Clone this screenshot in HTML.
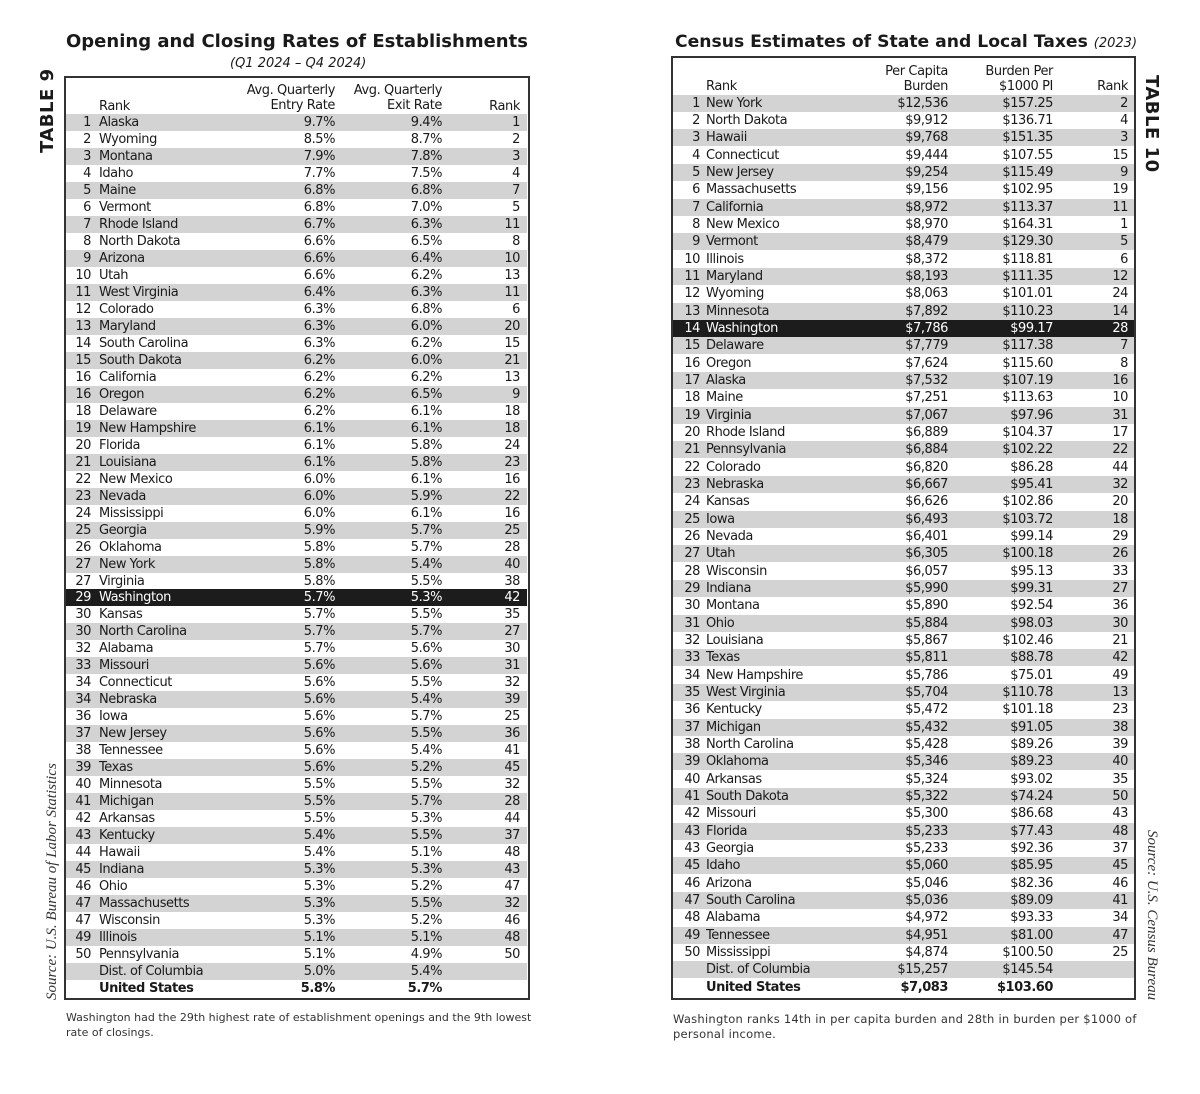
<!DOCTYPE html>
<html><head><meta charset="utf-8"><style>
body{margin:0;width:1200px;height:1094px;background:#fff;position:relative;font-family:"DejaVu Sans","Liberation Sans",sans-serif;color:#1a1a1a;overflow:hidden}
.abs{position:absolute}
.title{font-weight:bold;white-space:nowrap}
.box{position:absolute;border:2px solid #333;box-sizing:border-box}
.r{position:absolute;height:17px;font-size:13px;line-height:17px;white-space:nowrap;letter-spacing:-0.45px}
.r span{position:absolute;top:0}
.g{background:#d3d3d3}
.b{background:#1c1c1c;color:#fff}
.L .n{left:0;width:25px;text-align:right}
.L .s{left:33px}
.L .a{left:0;width:269px;text-align:right}
.L .c{left:0;width:376px;text-align:right}
.L .k{left:0;width:454px;text-align:right}
.R .n{left:0;width:27px;text-align:right}
.R .s{left:33px}
.R .a{left:0;width:275px;text-align:right}
.R .c{left:0;width:380px;text-align:right}
.R .k{left:0;width:455px;text-align:right}
.L{left:66px;width:461px}
.R{left:673px;width:461px}
.h{position:absolute;font-size:13px;line-height:15px;text-align:right;white-space:nowrap;letter-spacing:-0.4px}
.fn{position:absolute;font-size:11px;line-height:15px;color:#333;white-space:nowrap}
.rot{position:absolute;white-space:nowrap;transform-origin:0 0}
</style></head><body>
<div class="abs title" style="left:66px;top:31px;font-size:18px">Opening and Closing Rates of Establishments</div>
<div class="abs" style="left:230px;top:56px;font-size:13px;font-style:italic">(Q1 2024 – Q4 2024)</div>
<div class="abs title" style="left:675px;top:32px;font-size:17.2px">Census Estimates of State and Local Taxes <span style="font-weight:normal;font-style:italic;font-size:13px">(2023)</span></div>

<div class="rot" style="left:37px;top:153px;transform:rotate(-90deg);font-weight:bold;font-size:18px;letter-spacing:0.5px">TABLE 9</div>
<div class="rot" style="left:1162px;top:75px;transform:rotate(90deg);font-weight:bold;font-size:18px;letter-spacing:0.5px">TABLE 10</div>
<div class="rot" style="left:44px;top:1000px;transform:rotate(-90deg);font-family:'Liberation Serif',serif;font-style:italic;font-size:15px;color:#333">Source: U.S. Bureau of Labor Statistics</div>
<div class="rot" style="left:1160px;top:830px;transform:rotate(90deg);font-family:'Liberation Serif',serif;font-style:italic;font-size:15px;color:#333">Source: U.S. Census Bureau</div>

<div class="box" style="left:64px;top:76px;width:466px;height:924px"></div>
<div class="box" style="left:671px;top:56px;width:465px;height:944px"></div>

<div class="h" style="left:99px;top:99px;text-align:left">Rank</div>
<div class="h" style="left:200px;top:83px;width:135px">Avg. Quarterly<br>Entry Rate</div>
<div class="h" style="left:300px;top:83px;width:142px">Avg. Quarterly<br>Exit Rate</div>
<div class="h" style="left:470px;top:99px;width:50px">Rank</div>

<div class="h" style="left:706px;top:79px;text-align:left">Rank</div>
<div class="h" style="left:820px;top:64px;width:128px">Per Capita<br>Burden</div>
<div class="h" style="left:920px;top:64px;width:133px">Burden Per<br>$1000 PI</div>
<div class="h" style="left:1070px;top:79px;width:58px">Rank</div>

<div class="r L g" style="top:114.3px"><span class="n">1</span><span class="s">Alaska</span><span class="a">9.7%</span><span class="c">9.4%</span><span class="k">1</span></div>
<div class="r L" style="top:131.3px"><span class="n">2</span><span class="s">Wyoming</span><span class="a">8.5%</span><span class="c">8.7%</span><span class="k">2</span></div>
<div class="r L g" style="top:148.2px"><span class="n">3</span><span class="s">Montana</span><span class="a">7.9%</span><span class="c">7.8%</span><span class="k">3</span></div>
<div class="r L" style="top:165.2px"><span class="n">4</span><span class="s">Idaho</span><span class="a">7.7%</span><span class="c">7.5%</span><span class="k">4</span></div>
<div class="r L g" style="top:182.2px"><span class="n">5</span><span class="s">Maine</span><span class="a">6.8%</span><span class="c">6.8%</span><span class="k">7</span></div>
<div class="r L" style="top:199.1px"><span class="n">6</span><span class="s">Vermont</span><span class="a">6.8%</span><span class="c">7.0%</span><span class="k">5</span></div>
<div class="r L g" style="top:216.1px"><span class="n">7</span><span class="s">Rhode Island</span><span class="a">6.7%</span><span class="c">6.3%</span><span class="k">11</span></div>
<div class="r L" style="top:233.1px"><span class="n">8</span><span class="s">North Dakota</span><span class="a">6.6%</span><span class="c">6.5%</span><span class="k">8</span></div>
<div class="r L g" style="top:250.1px"><span class="n">9</span><span class="s">Arizona</span><span class="a">6.6%</span><span class="c">6.4%</span><span class="k">10</span></div>
<div class="r L" style="top:267.0px"><span class="n">10</span><span class="s">Utah</span><span class="a">6.6%</span><span class="c">6.2%</span><span class="k">13</span></div>
<div class="r L g" style="top:284.0px"><span class="n">11</span><span class="s">West Virginia</span><span class="a">6.4%</span><span class="c">6.3%</span><span class="k">11</span></div>
<div class="r L" style="top:301.0px"><span class="n">12</span><span class="s">Colorado</span><span class="a">6.3%</span><span class="c">6.8%</span><span class="k">6</span></div>
<div class="r L g" style="top:317.9px"><span class="n">13</span><span class="s">Maryland</span><span class="a">6.3%</span><span class="c">6.0%</span><span class="k">20</span></div>
<div class="r L" style="top:334.9px"><span class="n">14</span><span class="s">South Carolina</span><span class="a">6.3%</span><span class="c">6.2%</span><span class="k">15</span></div>
<div class="r L g" style="top:351.9px"><span class="n">15</span><span class="s">South Dakota</span><span class="a">6.2%</span><span class="c">6.0%</span><span class="k">21</span></div>
<div class="r L" style="top:368.8px"><span class="n">16</span><span class="s">California</span><span class="a">6.2%</span><span class="c">6.2%</span><span class="k">13</span></div>
<div class="r L g" style="top:385.8px"><span class="n">16</span><span class="s">Oregon</span><span class="a">6.2%</span><span class="c">6.5%</span><span class="k">9</span></div>
<div class="r L" style="top:402.8px"><span class="n">18</span><span class="s">Delaware</span><span class="a">6.2%</span><span class="c">6.1%</span><span class="k">18</span></div>
<div class="r L g" style="top:419.7px"><span class="n">19</span><span class="s">New Hampshire</span><span class="a">6.1%</span><span class="c">6.1%</span><span class="k">18</span></div>
<div class="r L" style="top:436.7px"><span class="n">20</span><span class="s">Florida</span><span class="a">6.1%</span><span class="c">5.8%</span><span class="k">24</span></div>
<div class="r L g" style="top:453.7px"><span class="n">21</span><span class="s">Louisiana</span><span class="a">6.1%</span><span class="c">5.8%</span><span class="k">23</span></div>
<div class="r L" style="top:470.6px"><span class="n">22</span><span class="s">New Mexico</span><span class="a">6.0%</span><span class="c">6.1%</span><span class="k">16</span></div>
<div class="r L g" style="top:487.6px"><span class="n">23</span><span class="s">Nevada</span><span class="a">6.0%</span><span class="c">5.9%</span><span class="k">22</span></div>
<div class="r L" style="top:504.6px"><span class="n">24</span><span class="s">Mississippi</span><span class="a">6.0%</span><span class="c">6.1%</span><span class="k">16</span></div>
<div class="r L g" style="top:521.6px"><span class="n">25</span><span class="s">Georgia</span><span class="a">5.9%</span><span class="c">5.7%</span><span class="k">25</span></div>
<div class="r L" style="top:538.5px"><span class="n">26</span><span class="s">Oklahoma</span><span class="a">5.8%</span><span class="c">5.7%</span><span class="k">28</span></div>
<div class="r L g" style="top:555.5px"><span class="n">27</span><span class="s">New York</span><span class="a">5.8%</span><span class="c">5.4%</span><span class="k">40</span></div>
<div class="r L" style="top:572.5px"><span class="n">27</span><span class="s">Virginia</span><span class="a">5.8%</span><span class="c">5.5%</span><span class="k">38</span></div>
<div class="r L b" style="top:589.4px"><span class="n">29</span><span class="s">Washington</span><span class="a">5.7%</span><span class="c">5.3%</span><span class="k">42</span></div>
<div class="r L" style="top:606.4px"><span class="n">30</span><span class="s">Kansas</span><span class="a">5.7%</span><span class="c">5.5%</span><span class="k">35</span></div>
<div class="r L g" style="top:623.4px"><span class="n">30</span><span class="s">North Carolina</span><span class="a">5.7%</span><span class="c">5.7%</span><span class="k">27</span></div>
<div class="r L" style="top:640.3px"><span class="n">32</span><span class="s">Alabama</span><span class="a">5.7%</span><span class="c">5.6%</span><span class="k">30</span></div>
<div class="r L g" style="top:657.3px"><span class="n">33</span><span class="s">Missouri</span><span class="a">5.6%</span><span class="c">5.6%</span><span class="k">31</span></div>
<div class="r L" style="top:674.3px"><span class="n">34</span><span class="s">Connecticut</span><span class="a">5.6%</span><span class="c">5.5%</span><span class="k">32</span></div>
<div class="r L g" style="top:691.2px"><span class="n">34</span><span class="s">Nebraska</span><span class="a">5.6%</span><span class="c">5.4%</span><span class="k">39</span></div>
<div class="r L" style="top:708.2px"><span class="n">36</span><span class="s">Iowa</span><span class="a">5.6%</span><span class="c">5.7%</span><span class="k">25</span></div>
<div class="r L g" style="top:725.2px"><span class="n">37</span><span class="s">New Jersey</span><span class="a">5.6%</span><span class="c">5.5%</span><span class="k">36</span></div>
<div class="r L" style="top:742.2px"><span class="n">38</span><span class="s">Tennessee</span><span class="a">5.6%</span><span class="c">5.4%</span><span class="k">41</span></div>
<div class="r L g" style="top:759.1px"><span class="n">39</span><span class="s">Texas</span><span class="a">5.6%</span><span class="c">5.2%</span><span class="k">45</span></div>
<div class="r L" style="top:776.1px"><span class="n">40</span><span class="s">Minnesota</span><span class="a">5.5%</span><span class="c">5.5%</span><span class="k">32</span></div>
<div class="r L g" style="top:793.1px"><span class="n">41</span><span class="s">Michigan</span><span class="a">5.5%</span><span class="c">5.7%</span><span class="k">28</span></div>
<div class="r L" style="top:810.0px"><span class="n">42</span><span class="s">Arkansas</span><span class="a">5.5%</span><span class="c">5.3%</span><span class="k">44</span></div>
<div class="r L g" style="top:827.0px"><span class="n">43</span><span class="s">Kentucky</span><span class="a">5.4%</span><span class="c">5.5%</span><span class="k">37</span></div>
<div class="r L" style="top:844.0px"><span class="n">44</span><span class="s">Hawaii</span><span class="a">5.4%</span><span class="c">5.1%</span><span class="k">48</span></div>
<div class="r L g" style="top:860.9px"><span class="n">45</span><span class="s">Indiana</span><span class="a">5.3%</span><span class="c">5.3%</span><span class="k">43</span></div>
<div class="r L" style="top:877.9px"><span class="n">46</span><span class="s">Ohio</span><span class="a">5.3%</span><span class="c">5.2%</span><span class="k">47</span></div>
<div class="r L g" style="top:894.9px"><span class="n">47</span><span class="s">Massachusetts</span><span class="a">5.3%</span><span class="c">5.5%</span><span class="k">32</span></div>
<div class="r L" style="top:911.8px"><span class="n">47</span><span class="s">Wisconsin</span><span class="a">5.3%</span><span class="c">5.2%</span><span class="k">46</span></div>
<div class="r L g" style="top:928.8px"><span class="n">49</span><span class="s">Illinois</span><span class="a">5.1%</span><span class="c">5.1%</span><span class="k">48</span></div>
<div class="r L" style="top:945.8px"><span class="n">50</span><span class="s">Pennsylvania</span><span class="a">5.1%</span><span class="c">4.9%</span><span class="k">50</span></div>
<div class="r L g" style="top:962.7px"><span class="s">Dist. of Columbia</span><span class="a">5.0%</span><span class="c">5.4%</span></div>
<div class="r L" style="top:979.7px;font-weight:bold"><span class="s">United States</span><span class="a">5.8%</span><span class="c">5.7%</span></div>

<div class="r R g" style="top:94.7px"><span class="n">1</span><span class="s">New York</span><span class="a">$12,536</span><span class="c">$157.25</span><span class="k">2</span></div>
<div class="r R" style="top:112.0px"><span class="n">2</span><span class="s">North Dakota</span><span class="a">$9,912</span><span class="c">$136.71</span><span class="k">4</span></div>
<div class="r R g" style="top:129.4px"><span class="n">3</span><span class="s">Hawaii</span><span class="a">$9,768</span><span class="c">$151.35</span><span class="k">3</span></div>
<div class="r R" style="top:146.7px"><span class="n">4</span><span class="s">Connecticut</span><span class="a">$9,444</span><span class="c">$107.55</span><span class="k">15</span></div>
<div class="r R g" style="top:164.0px"><span class="n">5</span><span class="s">New Jersey</span><span class="a">$9,254</span><span class="c">$115.49</span><span class="k">9</span></div>
<div class="r R" style="top:181.4px"><span class="n">6</span><span class="s">Massachusetts</span><span class="a">$9,156</span><span class="c">$102.95</span><span class="k">19</span></div>
<div class="r R g" style="top:198.7px"><span class="n">7</span><span class="s">California</span><span class="a">$8,972</span><span class="c">$113.37</span><span class="k">11</span></div>
<div class="r R" style="top:216.0px"><span class="n">8</span><span class="s">New Mexico</span><span class="a">$8,970</span><span class="c">$164.31</span><span class="k">1</span></div>
<div class="r R g" style="top:233.4px"><span class="n">9</span><span class="s">Vermont</span><span class="a">$8,479</span><span class="c">$129.30</span><span class="k">5</span></div>
<div class="r R" style="top:250.7px"><span class="n">10</span><span class="s">Illinois</span><span class="a">$8,372</span><span class="c">$118.81</span><span class="k">6</span></div>
<div class="r R g" style="top:268.0px"><span class="n">11</span><span class="s">Maryland</span><span class="a">$8,193</span><span class="c">$111.35</span><span class="k">12</span></div>
<div class="r R" style="top:285.4px"><span class="n">12</span><span class="s">Wyoming</span><span class="a">$8,063</span><span class="c">$101.01</span><span class="k">24</span></div>
<div class="r R g" style="top:302.7px"><span class="n">13</span><span class="s">Minnesota</span><span class="a">$7,892</span><span class="c">$110.23</span><span class="k">14</span></div>
<div class="r R b" style="top:320.0px"><span class="n">14</span><span class="s">Washington</span><span class="a">$7,786</span><span class="c">$99.17</span><span class="k">28</span></div>
<div class="r R g" style="top:337.4px"><span class="n">15</span><span class="s">Delaware</span><span class="a">$7,779</span><span class="c">$117.38</span><span class="k">7</span></div>
<div class="r R" style="top:354.7px"><span class="n">16</span><span class="s">Oregon</span><span class="a">$7,624</span><span class="c">$115.60</span><span class="k">8</span></div>
<div class="r R g" style="top:372.0px"><span class="n">17</span><span class="s">Alaska</span><span class="a">$7,532</span><span class="c">$107.19</span><span class="k">16</span></div>
<div class="r R" style="top:389.4px"><span class="n">18</span><span class="s">Maine</span><span class="a">$7,251</span><span class="c">$113.63</span><span class="k">10</span></div>
<div class="r R g" style="top:406.7px"><span class="n">19</span><span class="s">Virginia</span><span class="a">$7,067</span><span class="c">$97.96</span><span class="k">31</span></div>
<div class="r R" style="top:424.0px"><span class="n">20</span><span class="s">Rhode Island</span><span class="a">$6,889</span><span class="c">$104.37</span><span class="k">17</span></div>
<div class="r R g" style="top:441.4px"><span class="n">21</span><span class="s">Pennsylvania</span><span class="a">$6,884</span><span class="c">$102.22</span><span class="k">22</span></div>
<div class="r R" style="top:458.7px"><span class="n">22</span><span class="s">Colorado</span><span class="a">$6,820</span><span class="c">$86.28</span><span class="k">44</span></div>
<div class="r R g" style="top:476.0px"><span class="n">23</span><span class="s">Nebraska</span><span class="a">$6,667</span><span class="c">$95.41</span><span class="k">32</span></div>
<div class="r R" style="top:493.4px"><span class="n">24</span><span class="s">Kansas</span><span class="a">$6,626</span><span class="c">$102.86</span><span class="k">20</span></div>
<div class="r R g" style="top:510.7px"><span class="n">25</span><span class="s">Iowa</span><span class="a">$6,493</span><span class="c">$103.72</span><span class="k">18</span></div>
<div class="r R" style="top:528.0px"><span class="n">26</span><span class="s">Nevada</span><span class="a">$6,401</span><span class="c">$99.14</span><span class="k">29</span></div>
<div class="r R g" style="top:545.4px"><span class="n">27</span><span class="s">Utah</span><span class="a">$6,305</span><span class="c">$100.18</span><span class="k">26</span></div>
<div class="r R" style="top:562.7px"><span class="n">28</span><span class="s">Wisconsin</span><span class="a">$6,057</span><span class="c">$95.13</span><span class="k">33</span></div>
<div class="r R g" style="top:580.0px"><span class="n">29</span><span class="s">Indiana</span><span class="a">$5,990</span><span class="c">$99.31</span><span class="k">27</span></div>
<div class="r R" style="top:597.4px"><span class="n">30</span><span class="s">Montana</span><span class="a">$5,890</span><span class="c">$92.54</span><span class="k">36</span></div>
<div class="r R g" style="top:614.7px"><span class="n">31</span><span class="s">Ohio</span><span class="a">$5,884</span><span class="c">$98.03</span><span class="k">30</span></div>
<div class="r R" style="top:632.0px"><span class="n">32</span><span class="s">Louisiana</span><span class="a">$5,867</span><span class="c">$102.46</span><span class="k">21</span></div>
<div class="r R g" style="top:649.4px"><span class="n">33</span><span class="s">Texas</span><span class="a">$5,811</span><span class="c">$88.78</span><span class="k">42</span></div>
<div class="r R" style="top:666.7px"><span class="n">34</span><span class="s">New Hampshire</span><span class="a">$5,786</span><span class="c">$75.01</span><span class="k">49</span></div>
<div class="r R g" style="top:684.0px"><span class="n">35</span><span class="s">West Virginia</span><span class="a">$5,704</span><span class="c">$110.78</span><span class="k">13</span></div>
<div class="r R" style="top:701.4px"><span class="n">36</span><span class="s">Kentucky</span><span class="a">$5,472</span><span class="c">$101.18</span><span class="k">23</span></div>
<div class="r R g" style="top:718.7px"><span class="n">37</span><span class="s">Michigan</span><span class="a">$5,432</span><span class="c">$91.05</span><span class="k">38</span></div>
<div class="r R" style="top:736.0px"><span class="n">38</span><span class="s">North Carolina</span><span class="a">$5,428</span><span class="c">$89.26</span><span class="k">39</span></div>
<div class="r R g" style="top:753.4px"><span class="n">39</span><span class="s">Oklahoma</span><span class="a">$5,346</span><span class="c">$89.23</span><span class="k">40</span></div>
<div class="r R" style="top:770.7px"><span class="n">40</span><span class="s">Arkansas</span><span class="a">$5,324</span><span class="c">$93.02</span><span class="k">35</span></div>
<div class="r R g" style="top:788.0px"><span class="n">41</span><span class="s">South Dakota</span><span class="a">$5,322</span><span class="c">$74.24</span><span class="k">50</span></div>
<div class="r R" style="top:805.4px"><span class="n">42</span><span class="s">Missouri</span><span class="a">$5,300</span><span class="c">$86.68</span><span class="k">43</span></div>
<div class="r R g" style="top:822.7px"><span class="n">43</span><span class="s">Florida</span><span class="a">$5,233</span><span class="c">$77.43</span><span class="k">48</span></div>
<div class="r R" style="top:840.0px"><span class="n">43</span><span class="s">Georgia</span><span class="a">$5,233</span><span class="c">$92.36</span><span class="k">37</span></div>
<div class="r R g" style="top:857.4px"><span class="n">45</span><span class="s">Idaho</span><span class="a">$5,060</span><span class="c">$85.95</span><span class="k">45</span></div>
<div class="r R" style="top:874.7px"><span class="n">46</span><span class="s">Arizona</span><span class="a">$5,046</span><span class="c">$82.36</span><span class="k">46</span></div>
<div class="r R g" style="top:892.0px"><span class="n">47</span><span class="s">South Carolina</span><span class="a">$5,036</span><span class="c">$89.09</span><span class="k">41</span></div>
<div class="r R" style="top:909.4px"><span class="n">48</span><span class="s">Alabama</span><span class="a">$4,972</span><span class="c">$93.33</span><span class="k">34</span></div>
<div class="r R g" style="top:926.7px"><span class="n">49</span><span class="s">Tennessee</span><span class="a">$4,951</span><span class="c">$81.00</span><span class="k">47</span></div>
<div class="r R" style="top:944.0px"><span class="n">50</span><span class="s">Mississippi</span><span class="a">$4,874</span><span class="c">$100.50</span><span class="k">25</span></div>
<div class="r R g" style="top:961.4px"><span class="s">Dist. of Columbia</span><span class="a">$15,257</span><span class="c">$145.54</span></div>
<div class="r R" style="top:978.7px;font-weight:bold"><span class="s">United States</span><span class="a">$7,083</span><span class="c">$103.60</span></div>

<div class="fn" style="left:66px;top:1010px">Washington had the 29th highest rate of establishment openings and the 9th lowest<br>rate of closings.</div>
<div class="fn" style="left:673px;top:1012px;font-size:11.5px;letter-spacing:0.25px">Washington ranks 14th in per capita burden and 28th in burden per $1000 of<br>personal income.</div>
</body></html>
